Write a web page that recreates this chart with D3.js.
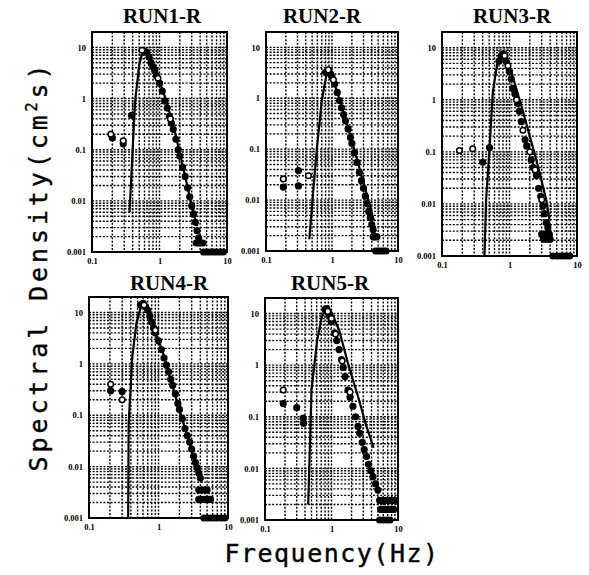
<!DOCTYPE html>
<html lang="en">
<head>
<meta charset="utf-8">
<title>Spectral Density</title>
<script src="https://d3js.org/d3.v7.min.js"></script>
<style>
  body { margin: 0; background: #fff; }
  .title { font: bold 21px "Liberation Serif", serif; }
  .axis-title { font: 25px "DejaVu Sans Mono", monospace; stroke: #000; stroke-width: 0.4; }
  .grid line { stroke: #000; stroke-width: 1.4; stroke-dasharray: 2,1.6; }
</style>
</head>
<body>
<script>
// runs and axis ticks
var runs = ["RUN1-R", "RUN2-R", "RUN3-R", "RUN4-R", "RUN5-R"];
var xTicks = [0.1, 1, 10];
var xTickLabels = ["0.1", "1", "10"];
var yTicks = [0.001, 0.01, 0.1, 1, 10];
var yTickLabels = ["0.001", "0.01", "0.1", "1", "10"];

// solid line (fitted spectrum) per run, [frequency Hz, density]
var line1 = [[0.36,0.006],[0.434,0.85],[0.5,4.5],[0.575,9.3],[0.7,6.5],[0.9,3.2],[1.2,1.1],[1.6,0.3],[2.2,0.05],[2.8,0.012],[3.6,0.0032]];
var line2 = [[0.453,0.0017],[0.52,0.015],[0.586,0.094],[0.7,0.9],[0.85,3.55],[0.95,3.3],[1.2,1.3],[1.87,0.2],[3.36,0.013],[4.3,0.004]];
var line3 = [[0.426,0.001],[0.45,0.012],[0.506,0.115],[0.566,1.42],[0.66,5],[0.8,7.8],[0.9,6.8],[1.1,3.0],[1.58,0.6],[2.5,0.07],[3.5,0.012],[3.9,0.005]];
var line4 = [[0.366,0.001],[0.372,0.07],[0.42,1.37],[0.48,6.1],[0.58,15.5],[0.7,10],[1.13,1.85],[2.43,0.052],[4.2,0.0048]];
var line5 = [[0.446,0.002],[0.47,0.02],[0.5,0.33],[0.61,3.1],[0.72,9],[0.84,12.5],[1.0,10.5],[1.3,4.8],[1.8,1.0],[2.5,0.25],[3.3,0.07],[4.3,0.025]];

// measured points, filled markers
var filled1 = [[0.6,8.5],[0.65,8],[0.7,6.5],[0.75,5],[0.8,4.2],[0.85,3.5],[0.9,2.8],[1.0,2.0],[1.1,1.4],[1.2,0.9],[1.3,0.65],[1.4,0.45],[1.5,0.33],[1.6,0.25],[1.75,0.16],[1.9,0.1],[2.0,0.075],[2.2,0.045],[2.4,0.03],[2.6,0.018],[2.8,0.012],[3.0,0.008],[3.2,0.0055],[3.4,0.0038],[3.6,0.0026],[3.8,0.0019],[3.5,0.0015],[3.8,0.0015],[4.1,0.0015],[4.4,0.0015],[4.5,0.001],[5,0.001],[5.6,0.001],[6.3,0.001],[7,0.001],[7.9,0.001],[8.8,0.001],[0.2,0.17],[0.29,0.13],[0.385,0.47]];
var filled2 = [[0.8,3.2],[0.85,3.4],[0.9,3.3],[0.95,3.0],[1.0,2.6],[1.1,1.9],[1.2,1.3],[1.3,0.9],[1.4,0.65],[1.5,0.48],[1.6,0.36],[1.75,0.25],[1.9,0.17],[2.0,0.13],[2.2,0.085],[2.4,0.055],[2.6,0.035],[2.8,0.024],[3.0,0.017],[3.2,0.012],[3.4,0.0085],[3.6,0.006],[3.8,0.0045],[4.0,0.0033],[4.2,0.0026],[4.2,0.0019],[4.5,0.0019],[4.8,0.0019],[4.6,0.001],[5.0,0.001],[5.5,0.001],[6.0,0.001],[6.6,0.001],[0.31,0.038],[0.31,0.019],[0.183,0.018]];
var filled3 = [[0.7,5.5],[0.75,6.8],[0.8,7.5],[0.9,5.4],[1.0,3.5],[1.06,2.5],[1.12,1.65],[1.2,1.3],[1.33,0.85],[1.4,0.6],[1.5,0.38],[1.7,0.17],[1.8,0.13],[2.1,0.07],[2.25,0.05],[2.5,0.035],[2.7,0.02],[2.9,0.014],[3.14,0.0092],[3.3,0.0065],[3.53,0.0044],[3.7,0.0035],[3.0,0.0026],[3.3,0.0026],[3.6,0.0026],[3.9,0.0026],[3.2,0.0021],[3.6,0.0021],[4.0,0.0021],[4.4,0.001],[5,0.001],[5.6,0.001],[6.3,0.001],[7,0.001],[7.8,0.001],[0.4,0.063],[0.506,0.12]];
var filled4 = [[0.55,14],[0.6,15],[0.65,13],[0.7,11],[0.75,8.5],[0.8,6.5],[0.85,5],[0.9,4],[1.0,2.8],[1.1,1.9],[1.2,1.3],[1.3,0.95],[1.4,0.7],[1.5,0.5],[1.6,0.38],[1.75,0.26],[1.9,0.17],[2.0,0.13],[2.2,0.085],[2.4,0.055],[2.6,0.04],[2.8,0.03],[3.0,0.022],[3.2,0.016],[3.4,0.012],[3.6,0.0095],[3.8,0.0075],[4.0,0.006],[3.8,0.0035],[4.2,0.0035],[4.6,0.0035],[5.0,0.0035],[3.8,0.0023],[4.2,0.0023],[4.7,0.0023],[5.2,0.0023],[5.6,0.0023],[4.5,0.001],[5,0.001],[5.6,0.001],[6.3,0.001],[7,0.001],[8,0.001],[9,0.001],[0.205,0.3],[0.3,0.29]];
var filled5 = [[0.8,12],[0.85,12.5],[0.9,10],[0.94,8.9],[1.0,7],[1.12,4.2],[1.2,3],[1.3,2],[1.41,1.28],[1.5,0.9],[1.6,0.6],[1.77,0.33],[1.9,0.24],[2.1,0.16],[2.3,0.1],[2.5,0.065],[2.66,0.048],[2.9,0.032],[3.1,0.023],[3.36,0.017],[3.6,0.012],[3.9,0.009],[4.2,0.0069],[4.6,0.005],[5.0,0.0038],[5.3,0.0024],[5.9,0.0024],[6.6,0.0024],[7.4,0.0024],[8.3,0.0024],[9.0,0.0024],[5.5,0.0016],[6.2,0.0016],[7,0.0016],[7.8,0.0016],[8.6,0.0016],[5.3,0.001],[6,0.001],[6.8,0.001],[7.6,0.001],[0.188,0.18],[0.3,0.15],[0.375,0.094],[0.38,0.075]];

// measured points, open markers
var open1 = [[0.19,0.2],[0.29,0.15],[0.55,8.8],[0.95,2.5],[1.45,0.4]];
var open2 = [[0.183,0.026],[0.44,0.03],[0.88,3.6],[1.05,2.3]];
var open3 = [[0.181,0.106],[0.285,0.115],[0.85,7],[0.95,4.5],[1.27,1.0],[1.58,0.26],[2.0,0.1],[2.4,0.045],[3.0,0.012]];
var open4 = [[0.205,0.4],[0.3,0.2],[0.62,14],[0.9,4.5]];
var open5 = [[0.188,0.33],[0.88,11],[1.0,8],[1.15,4],[1.45,1.2],[1.9,0.3]];

var lines = [line1, line2, line3, line4, line5];
var filled = [filled1, filled2, filled3, filled4, filled5];
var opens = [open1, open2, open3, open4, open5];

// panel boxes in pixels
var layout = [
  {x0: 92, x1: 227, y0: 32, y1: 252, tx: 162, ty: 23},
  {x0: 266, x1: 398, y0: 32, y1: 251, tx: 322, ty: 23},
  {x0: 442, x1: 577, y0: 32, y1: 256, tx: 512, ty: 23},
  {x0: 89, x1: 228, y0: 297, y1: 518, tx: 169, ty: 290},
  {x0: 265, x1: 398, y0: 298, y1: 520, tx: 330, ty: 290}
];

var svg = d3.select("body")
  .append("svg")
  .attr("width", 589)
  .attr("height", 575);

runs.forEach(function(name, i) {
  var b = layout[i];
  var x = d3.scaleLog().domain([0.1, 10]).range([b.x0, b.x1]);
  var y = d3.scaleLog().domain([0.001, 20]).range([b.y1, b.y0]);
  var g = svg.append("g");

  // dotted grid
  var grid = g.append("g").attr("class", "grid");
  grid.selectAll(".gx")
    .data(x.ticks().filter(function(d) { return d > 0.1 && d < 10; }))
    .enter().append("line")
    .attr("x1", function(d) { return x(d); })
    .attr("x2", function(d) { return x(d); })
    .attr("y1", b.y0).attr("y2", b.y1);
  grid.selectAll(".gy")
    .data(y.ticks().filter(function(d) { return d > 0.001 && d < 20; }))
    .enter().append("line")
    .attr("y1", function(d) { return y(d); })
    .attr("y2", function(d) { return y(d); })
    .attr("x1", b.x0).attr("x2", b.x1);

  // fitted spectrum
  g.append("path")
    .datum(lines[i])
    .attr("fill", "none")
    .attr("stroke", "#000")
    .attr("stroke-width", 2.2)
    .attr("d", d3.line()
      .x(function(d) { return x(d[0]); })
      .y(function(d) { return y(d[1]); }));

  // measured
  g.selectAll(".f")
    .data(filled[i])
    .enter().append("circle")
    .attr("cx", function(d) { return x(d[0]); })
    .attr("cy", function(d) { return y(d[1]); })
    .attr("r", 3.6)
    .attr("fill", "#000");
  g.selectAll(".o")
    .data(opens[i])
    .enter().append("circle")
    .attr("cx", function(d) { return x(d[0]); })
    .attr("cy", function(d) { return y(d[1]); })
    .attr("r", 2.8)
    .attr("fill", "#fff")
    .attr("stroke", "#000")
    .attr("stroke-width", 1.5);

  // frame
  g.append("rect")
    .attr("x", b.x0).attr("y", b.y0)
    .attr("width", b.x1 - b.x0).attr("height", b.y1 - b.y0)
    .attr("fill", "none")
    .attr("stroke", "#000")
    .attr("stroke-width", 2);

  // axes
  var ax = g.append("g")
    .attr("transform", "translate(0," + b.y1 + ")")
    .call(d3.axisBottom(x).tickValues(xTicks).tickSize(0).tickPadding(6)
      .tickFormat(function(d, k) { return xTickLabels[k]; }));
  var ay = g.append("g")
    .attr("transform", "translate(" + b.x0 + ",0)")
    .call(d3.axisLeft(y).tickValues(yTicks).tickSize(0).tickPadding(6)
      .tickFormat(function(d, k) { return yTickLabels[k]; }));
  [ax, ay].forEach(function(a) {
    a.select(".domain").remove();
    a.attr("font-family", "Liberation Serif, serif")
      .attr("font-size", 8.5)
      .attr("font-weight", "bold");
  });

  g.append("text")
    .attr("class", "title")
    .attr("x", b.tx).attr("y", b.ty)
    .attr("text-anchor", "middle")
    .text(name);
});

// axis titles
svg.append("text")
  .attr("class", "axis-title")
  .attr("x", 332).attr("y", 562)
  .attr("text-anchor", "middle")
  .attr("letter-spacing", 1.5)
  .text("Frequency(Hz)");

var yt = svg.append("text")
  .attr("class", "axis-title")
  .attr("transform", "translate(47,266) rotate(-90)")
  .attr("text-anchor", "middle")
  .attr("letter-spacing", 3.9);
yt.append("tspan").text("Spectral Density(cm");
yt.append("tspan").attr("font-size", 15).attr("dy", -10).text("2");
yt.append("tspan").attr("dy", 10).text("s)");
</script>
</body>
</html>
